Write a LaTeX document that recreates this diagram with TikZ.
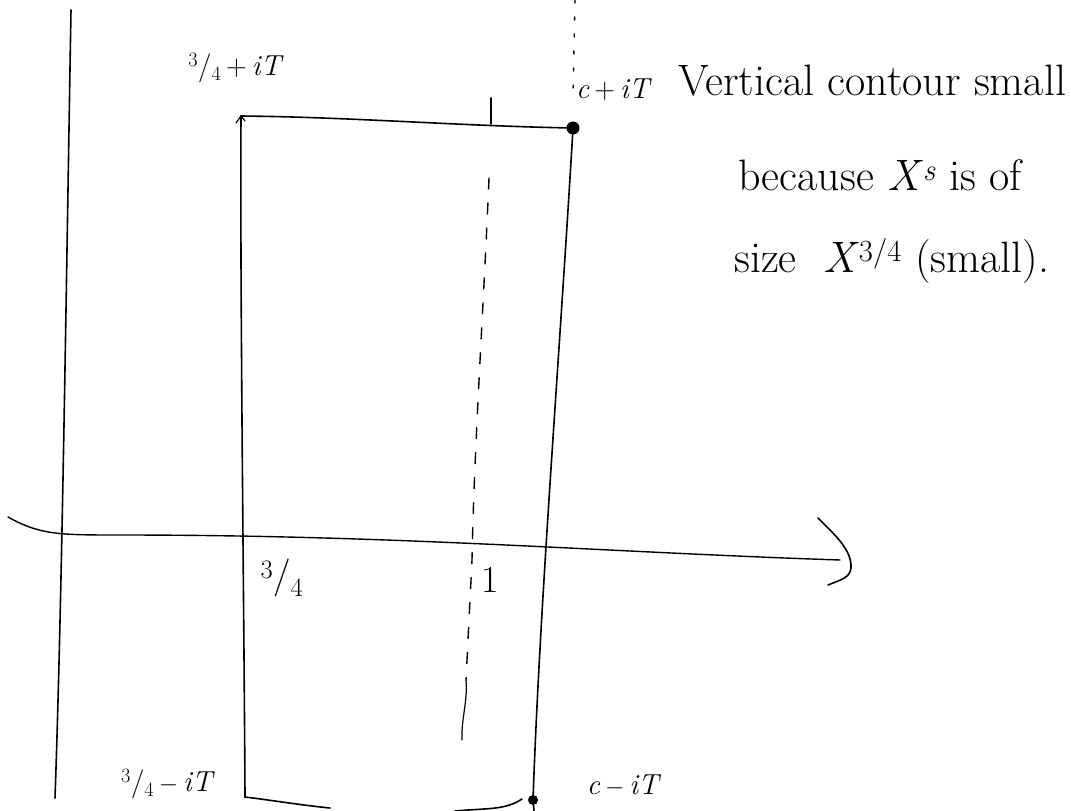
\documentclass[tikz,border=0pt]{standalone}
\usetikzlibrary{arrows.meta}
\newcommand\tqfrac{\textsuperscript{3}/\textsubscript{4}}
\begin{document}
\begin{tikzpicture}[x=1pt,y=-1pt,
  pen/.style={line width=1.6pt,line cap=round,line join=round},
  guide/.style={line width=1.4pt,dash pattern=on 11pt off 14pt,line cap=round},
  lbl/.style={font=\fontsize{29}{32}\selectfont,inner sep=0pt},
  big/.style={font=\fontsize{38}{42}\selectfont,inner sep=0pt},
  note/.style={font=\fontsize{44}{48}\selectfont,inner sep=0pt,anchor=base west},
  dotm/.style={circle,fill=black,inner sep=0pt,minimum width=9pt,minimum height=13pt}]
\useasboundingbox (0,0) rectangle (1071,811);
% axes
\coordinate (vtop) at (71,10);
\coordinate (vbot) at (55,798);
\draw[pen] (vtop) .. controls (66,300) and (62,600) .. (vbot);
\coordinate (hl) at (8,517);
\coordinate (hr) at (840,560);
\draw[pen,line width=1.4pt] (hl) .. controls (40,535) and (60,535) .. (120,535)
   .. controls (400,535) and (600,552) .. (hr);
\coordinate (a1) at (818,518);
\coordinate (a2) at (851,568);
\coordinate (a3) at (828,585);
\draw[pen] (a1) .. controls (835,535) and (852,550) .. (a2) .. controls (850,578) and (840,580) .. (a3);
% contour corners
\coordinate (tl) at (241,116);
\coordinate (bl) at (245,797);
\node[dotm,rotate=10] (ctop) at (573,128) {};
\node[dotm,minimum width=10pt,minimum height=10pt] (cbot) at (533,800) {};
% left side with small arrowhead
\draw[pen] (bl) .. controls (244,600) and (240,300) .. (tl);
\draw[pen,line width=1.2pt] (236,123) -- (tl) -- (245,121);
% top edge
\draw[pen] (tl) .. controls (350,117) and (460,126) .. (ctop.center);
\coordinate (tk1) at (491,98);
\coordinate (tk2) at (491,124);
\draw[pen] (tk1) -- (tk2);
% right side
\draw[pen] (ctop.center) .. controls (560,350) and (540,600) .. (cbot.center) -- (534,811);
% bottom edges
\coordinate (b1) at (330,808);
\draw[pen] (bl) .. controls (270,800) and (300,805) .. (b1);
\coordinate (b2) at (455,811);
\draw[pen] (b2) .. controls (490,808) and (505,810) .. (522,799);
% dashed line x = 1
\coordinate (d0) at (575,0);
\coordinate (d1) at (573,96);
\draw[guide,dash pattern=on 3pt off 14pt] (d0) -- (d1);
\coordinate (g1) at (489,178);
\coordinate (g2) at (472,560);
\coordinate (g3) at (466,680);
\coordinate (g4) at (462,740);
\draw[guide] (g1) .. controls (484,300) and (474,450) .. (g2) -- (g3);
\draw[pen,line width=1.2pt] (g3) .. controls (468,700) and (461,720) .. (g4);
% labels
\node[lbl] (ltl) at (236,68) {\tqfrac\,+\,\textit{iT}};
\node[lbl] (ltr) at (614,90) {\textit{c}\,+\,\textit{iT}};
\node[big] (l34) at (282,578) {\tqfrac};
\node[big] (l1) at (490,580) {1};
\node[lbl] (lbl1) at (168,784) {\tqfrac\,$-$\,\textit{iT}};
\node[lbl] (lbr) at (624,786) {\textit{c}\,$-$\,\textit{iT}};
\node[note] (n1) at (678,95) {Vertical contour small};
\node[note] (n2) at (738,190) {because \textit{X}\textsuperscript{\textit{s}} is of};
\node[note] (n3) at (734,272) {size\ \ \textit{X}\textsuperscript{3/4} (small).};
\end{tikzpicture}
\end{document}
